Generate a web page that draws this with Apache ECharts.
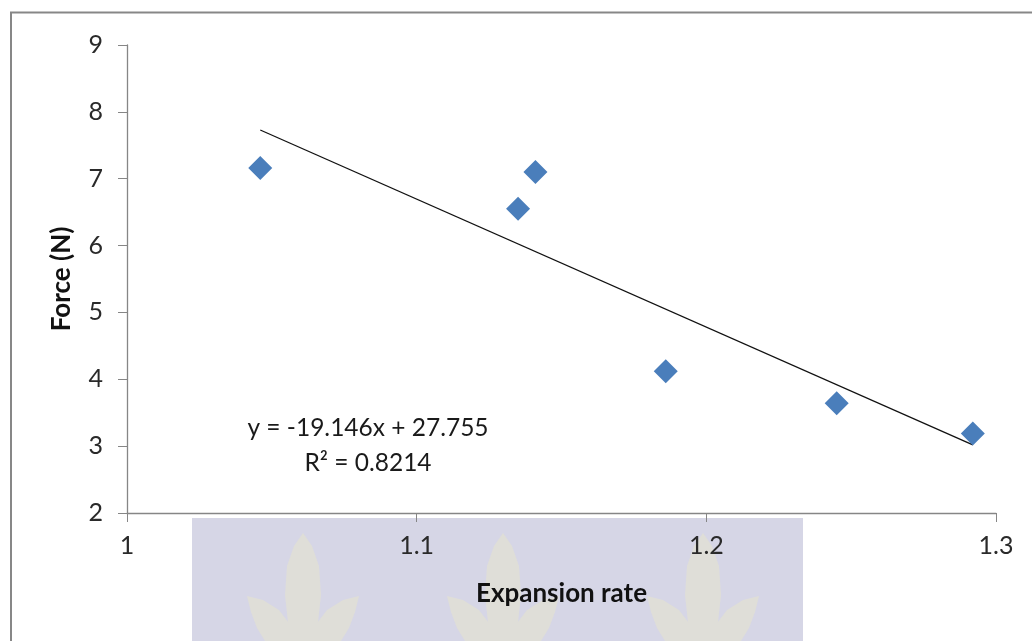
<!DOCTYPE html>
<html>
<head>
<meta charset="utf-8">
<script src="https://cdn.jsdelivr.net/npm/echarts@6/dist/echarts.min.js"></script>
<style>html,body{margin:0;padding:0;background:#fff;}#c{width:1032px;height:641px;}</style>
</head>
<body>
<div id="c"></div>
<script>
const expansionRate = [1.046, 1.135, 1.141, 1.186, 1.245, 1.292];
const forceN = [7.16, 6.55, 7.10, 4.12, 3.64, 3.19];
const slope = -19.146;
const intercept = 27.755;
const equationText = ['y = -19.146x + 27.755', 'R\u00b2 = 0.8214'];
const xTicks = [1, 1.1, 1.2, 1.3];
const yTicks = [2, 3, 4, 5, 6, 7, 8, 9];

const xMin = Math.min(...expansionRate), xMax = Math.max(...expansionRate);
const trend = [[xMin, slope * xMin + intercept], [xMax, slope * xMax + intercept]];

const font = 'Lato, "Open Sans", sans-serif';
function leaf(cx) {
  const centre = [[0,533],[9,546],[16,566],[18,595],[13,641],[-13,641],[-18,595],[-16,566],[-9,546]];
  const side = [[-56,596],[-40,600],[-24,610],[-11,627],[-5,641],[-38,641],[-46,628],[-52,612]];
  const mk = pts => ({type: 'polygon', shape: {points: pts.map(p => [cx + p[0], p[1]])}, style: {fill: '#dfded8'}, silent: true, z: -9});
  return [mk(centre), mk(side), mk(side.map(p => [-p[0], p[1]]))];
}

const chart = echarts.init(document.getElementById('c'));
chart.setOption({
  backgroundColor: '#ffffff',
  animation: false,
  graphic: [
    {type: 'rect', shape: {x: 192, y: 518, width: 611, height: 130}, style: {fill: '#d6d6e6'}, silent: true, z: -10},
    ...leaf(303), ...leaf(503), ...leaf(703),
    {type: 'rect', shape: {x: 11, y: 12.5, width: 1040, height: 660}, style: {fill: 'none', stroke: '#878787', lineWidth: 2}, silent: true, z: 10},
    {type: 'text', style: {x: 368, y: 428, align: 'center', verticalAlign: 'middle', text: equationText[0], font: '24.5px ' + font, fill: '#1a1a1a'}, z: 10},
    {type: 'text', style: {x: 368, y: 463, align: 'center', verticalAlign: 'middle', text: equationText[1], font: '24.5px ' + font, fill: '#1a1a1a'}, z: 10}
  ],
  grid: {left: 127, right: 36, top: 45, bottom: 128, containLabel: false},
  xAxis: {
    type: 'value', min: 1, max: 1.3, interval: 0.1,
    name: 'Expansion rate', nameLocation: 'middle', nameGap: 68,
    nameTextStyle: {fontFamily: font, fontSize: 26, fontWeight: 'bold', color: '#111'},
    axisLine: {show: true, lineStyle: {color: '#868686', width: 1.3}},
    axisTick: {show: true, length: 9, lineStyle: {color: '#868686'}},
    axisLabel: {fontFamily: font, fontSize: 25, color: '#2a2a2a', margin: 20,
      formatter: v => { const t = xTicks.find(k => Math.abs(k - v) < 1e-6); return t === undefined ? '' : String(t); }},
    splitLine: {show: false}
  },
  yAxis: {
    type: 'value', min: 2, max: 9, interval: 1,
    name: 'Force (N)', nameLocation: 'middle', nameGap: 52,
    nameTextStyle: {fontFamily: font, fontSize: 26, fontWeight: 'bold', color: '#111'},
    axisLine: {show: true, lineStyle: {color: '#868686', width: 1.3}},
    axisTick: {show: true, length: 9, lineStyle: {color: '#868686'}},
    axisLabel: {fontFamily: font, fontSize: 25, color: '#2a2a2a', margin: 24,
      formatter: v => { const t = yTicks.find(k => Math.abs(k - v) < 1e-6); return t === undefined ? '' : String(t); }},
    splitLine: {show: false}
  },
  series: [
    {type: 'line', data: trend, symbol: 'none', lineStyle: {color: '#111', width: 1.3}, z: 2, silent: true},
    {type: 'scatter', data: expansionRate.map((x, i) => [x, forceN[i]]), symbol: 'diamond', symbolSize: 24,
      itemStyle: {color: '#4a7ebb', opacity: 1}, z: 3}
  ]
});
</script>
</body>
</html>
